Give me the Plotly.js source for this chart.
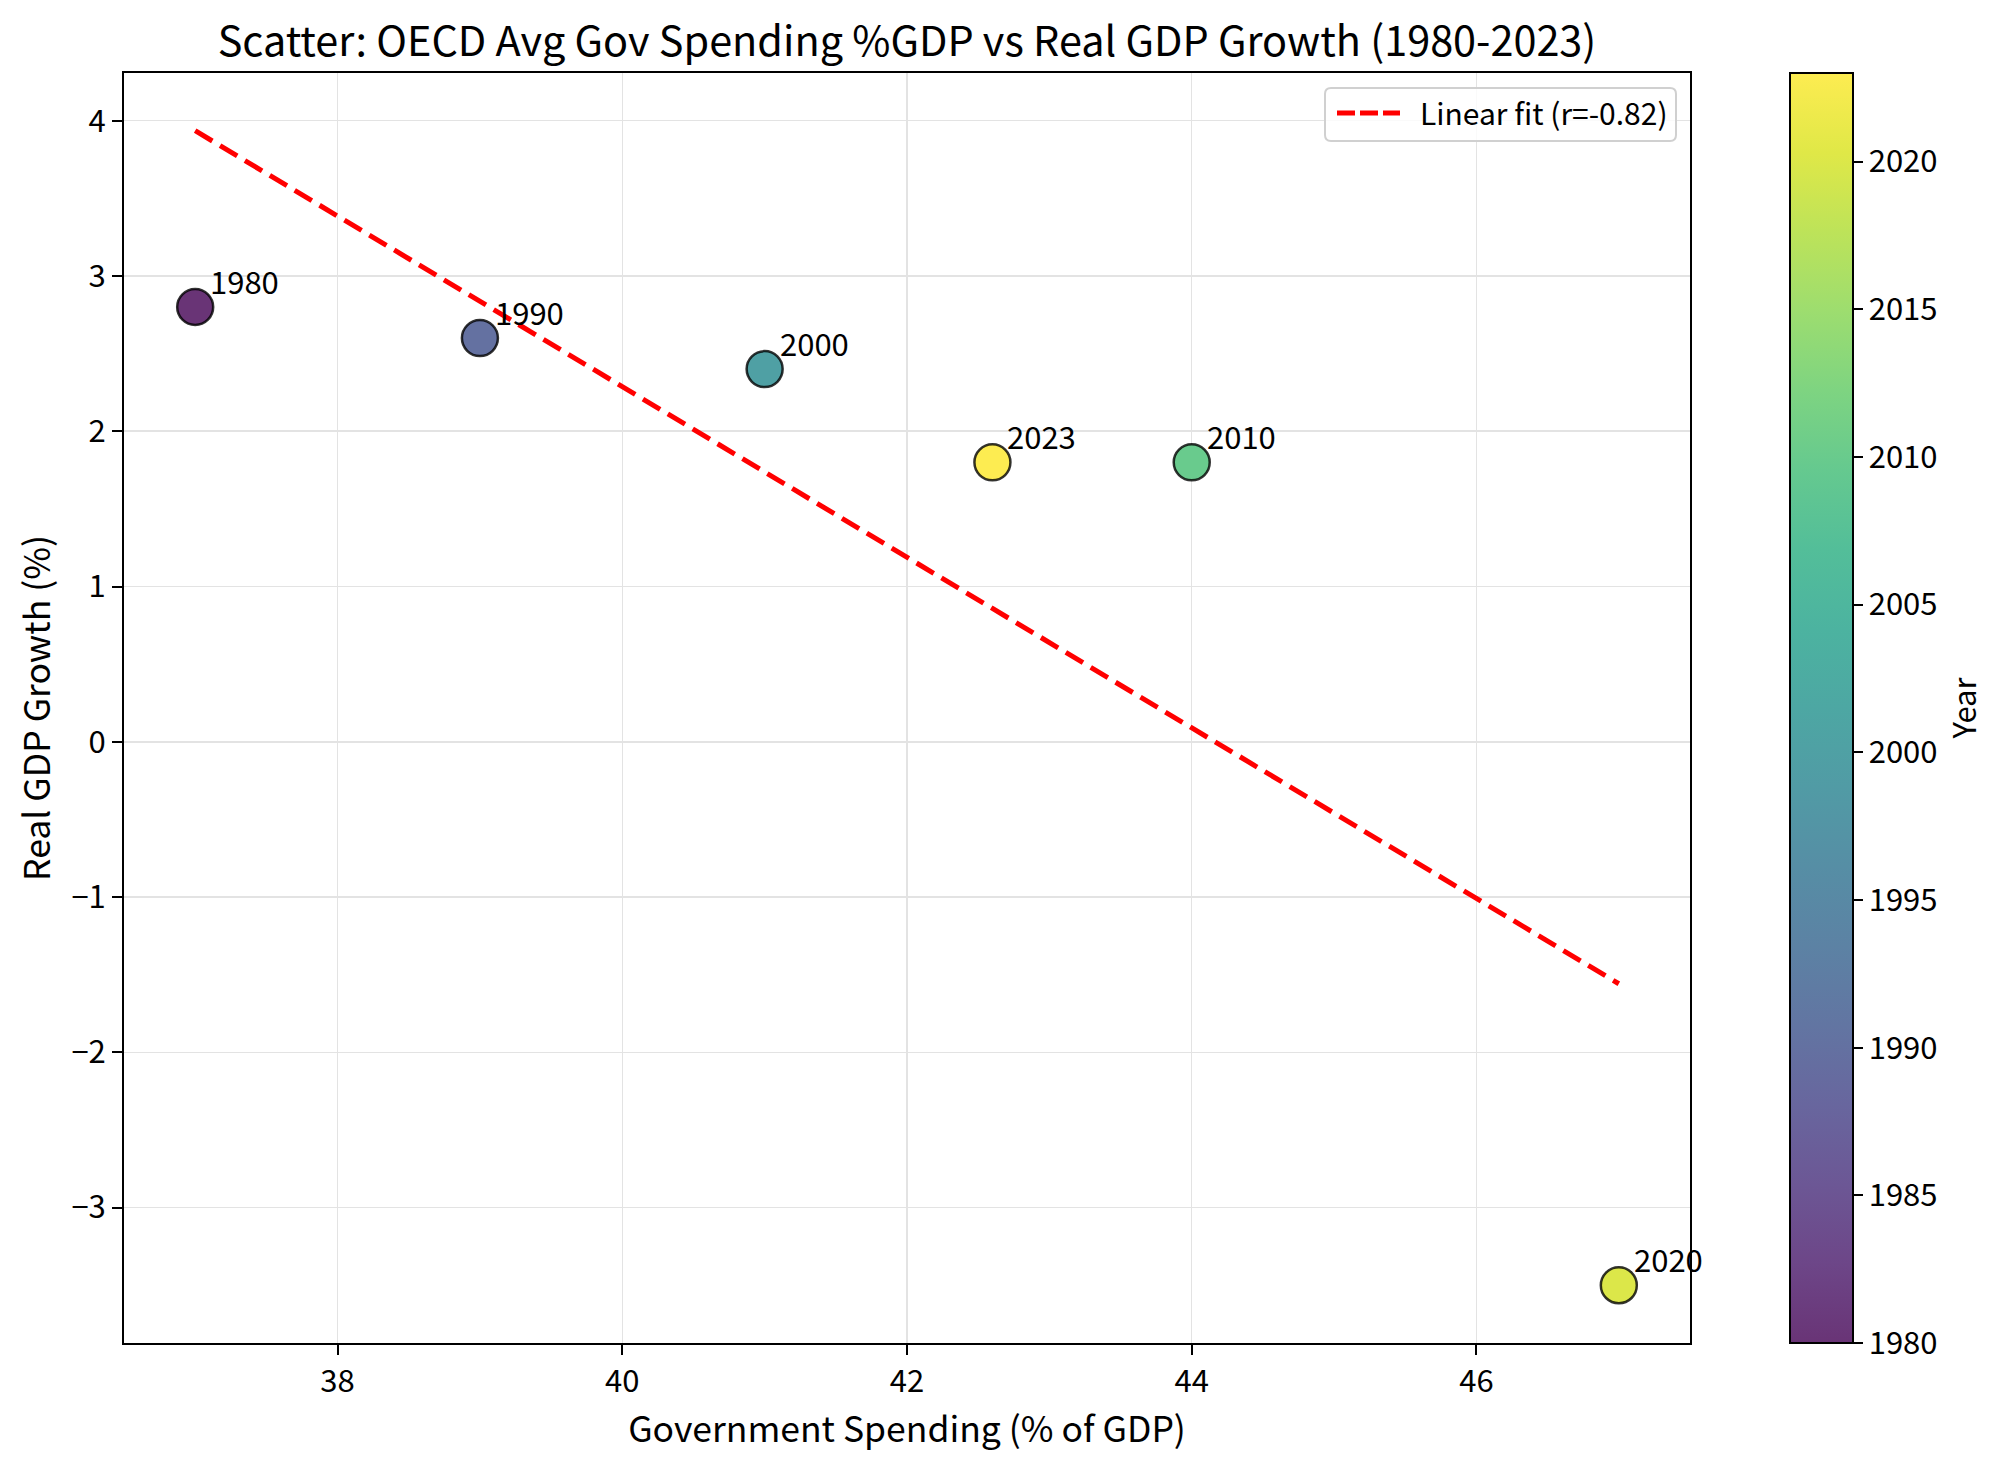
<!DOCTYPE html>
<html>
<head>
<meta charset="utf-8">
<script src="https://cdn.plot.ly/plotly-3.0.1.min.js"></script>
<style>html,body{margin:0;padding:0;background:#fff;}#chart{width:2000px;height:1465px;}</style>
</head>
<body>
<div id="chart"></div>
<script>
const years = [1980, 1990, 2000, 2010, 2020, 2023];
const govSpending = [37, 39, 41, 44, 47, 42.6];
const gdpGrowth = [2.8, 2.6, 2.4, 1.8, -3.5, 1.8];
const xTickVals = [38, 40, 42, 44, 46];
const yTickVals = [-3, -2, -1, 0, 1, 2, 3, 4];
const cbTickVals = [1980, 1985, 1990, 1995, 2000, 2005, 2010, 2015, 2020];

const FONT = '"Noto Sans CJK JP", "Noto Sans", sans-serif';

// least squares fit
const n = govSpending.length;
const mx = govSpending.reduce((a, b) => a + b, 0) / n;
const my = gdpGrowth.reduce((a, b) => a + b, 0) / n;
let sxy = 0, sxx = 0, syy = 0;
for (let i = 0; i < n; i++) {
  sxy += (govSpending[i] - mx) * (gdpGrowth[i] - my);
  sxx += (govSpending[i] - mx) ** 2;
  syy += (gdpGrowth[i] - my) ** 2;
}
const slope = sxy / sxx;
const intercept = my - slope * mx;
const r = sxy / Math.sqrt(sxx * syy);
const xMin = Math.min(...govSpending), xMax = Math.max(...govSpending);
const fitX = [xMin, xMax];
const fitY = fitX.map(x => slope * x + intercept);
const fitLabel = 'Linear fit (r=' + r.toFixed(2) + ')';

// axis ranges with 5% margins (matplotlib style)
const xPad = 0.05 * (xMax - xMin);
const allY = gdpGrowth.concat(fitY);
const yMin = Math.min(...allY), yMax = Math.max(...allY);
const yPad = 0.05 * (yMax - yMin);

// viridis blended with white at alpha 0.8
const viridis = ['#440154','#48186a','#472d7b','#424086','#3b528b','#33638d','#2c728e','#26828e','#21918c','#1fa088','#28ae80','#3fbc73','#5ec962','#84d44b','#addc30','#d8e219','#fde725'];
function blend(hex) {
  const v = [1, 3, 5].map(i => parseInt(hex.substr(i, 2), 16));
  const b = v.map(c => Math.round(c * 0.8 + 255 * 0.2));
  return 'rgb(' + b.join(',') + ')';
}
const colorscale = viridis.map((c, i) => [i / (viridis.length - 1), blend(c)]);

const scatter = {
  x: govSpending, y: gdpGrowth, text: years.map(String),
  type: 'scatter', mode: 'markers', showlegend: false,
  hoverinfo: 'x+y+text',
  marker: {
    size: 36, color: years, colorscale: colorscale, cmin: 1980, cmax: 2023,
    line: {color: 'rgba(0,0,0,0.8)', width: 2.5},
    colorbar: {
      x: 1.0639, xanchor: 'left', xref: 'paper',
      y: 0.5, yanchor: 'middle', len: 1, lenmode: 'fraction',
      thickness: 63, thicknessmode: 'pixels',
      outlinecolor: '#000', outlinewidth: 2,
      ticks: 'outside', ticklen: 9, tickwidth: 2, tickcolor: '#000',
      tickvals: cbTickVals, ticktext: cbTickVals.map(String),
      tickfont: {family: FONT, size: 31, color: '#000'},
      title: {text: 'Year', side: 'right', font: {family: FONT, size: 31, color: '#000'}},
      xpad: 0, ypad: 0
    }
  }
};

const fit = {
  x: fitX, y: fitY, type: 'scatter', mode: 'lines',
  name: fitLabel, showlegend: false,
  line: {color: '#ff0000', width: 5, dash: '20px,9px'},
  hoverinfo: 'skip'
};

const annotations = years.map((yr, i) => ({
  x: govSpending[i], y: gdpGrowth[i], xref: 'x', yref: 'y',
  text: String(yr), showarrow: false,
  xanchor: 'left', yanchor: 'bottom', xshift: 13, yshift: 2,
  font: {family: FONT, size: 31, color: '#000'}
}));

// legend drawn in paper coordinates (pixel helpers relative to the plot area)
const M = {l: 124, r: 310, t: 73, b: 122}, W = 2000, H = 1465;
const PW = W - M.l - M.r, PH = H - M.t - M.b;
const px = v => (v - M.l) / PW;
const py = v => 1 - (v - M.t) / PH;
function roundRect(x0, y0, x1, y1, rad) {
  const X = px, Y = py;
  return 'M' + X(x0 + rad) + ',' + Y(y0) +
    ' L' + X(x1 - rad) + ',' + Y(y0) + ' Q' + X(x1) + ',' + Y(y0) + ' ' + X(x1) + ',' + Y(y0 + rad) +
    ' L' + X(x1) + ',' + Y(y1 - rad) + ' Q' + X(x1) + ',' + Y(y1) + ' ' + X(x1 - rad) + ',' + Y(y1) +
    ' L' + X(x0 + rad) + ',' + Y(y1) + ' Q' + X(x0) + ',' + Y(y1) + ' ' + X(x0) + ',' + Y(y1 - rad) +
    ' L' + X(x0) + ',' + Y(y0 + rad) + ' Q' + X(x0) + ',' + Y(y0) + ' ' + X(x0 + rad) + ',' + Y(y0) + ' Z';
}
const legendShapes = [
  {type: 'path', xref: 'paper', yref: 'paper', path: roundRect(1325, 88, 1676, 141, 6),
   fillcolor: 'rgba(255,255,255,0.8)', line: {color: '#d0d0d0', width: 2}, layer: 'above'},
  {type: 'line', xref: 'paper', yref: 'paper', x0: px(1337), x1: px(1400), y0: py(113), y1: py(113),
   line: {color: '#ff0000', width: 5, dash: '18px,5px'}, layer: 'above'}
];
annotations.push({
  xref: 'paper', yref: 'paper', x: px(1418), y: py(112), xanchor: 'left', yanchor: 'middle',
  text: fitLabel, showarrow: false, font: {family: FONT, size: 30, color: '#000'}
});

const axisCommon = {
  showline: true, linecolor: '#000', linewidth: 2, mirror: true,
  ticks: 'outside', ticklen: 10, tickwidth: 2, tickcolor: '#000',
  showgrid: true, gridcolor: '#e3e3e3', gridwidth: 1.5,
  zeroline: false,
  tickfont: {family: FONT, size: 31, color: '#000'}
};

const layout = {
  width: W, height: H,
  margin: M,
  paper_bgcolor: '#fff', plot_bgcolor: '#fff',
  font: {family: FONT, color: '#000'},
  showlegend: false,
  title: {
    text: 'Scatter: OECD Avg Gov Spending %GDP vs Real GDP Growth (1980-2023)',
    x: 0.5, xref: 'paper', xanchor: 'center',
    y: 1 - 42 / 1465, yref: 'container', yanchor: 'middle',
    font: {family: FONT, size: 41.4, color: '#000'}
  },
  xaxis: Object.assign({}, axisCommon, {
    range: [xMin - xPad, xMax + xPad],
    tickvals: xTickVals, ticktext: xTickVals.map(String),
    title: {text: 'Government Spending (% of GDP)', standoff: 0,
            font: {family: FONT, size: 35.5, color: '#000'}}
  }),
  yaxis: Object.assign({}, axisCommon, {
    range: [yMin - yPad, yMax + yPad],
    tickvals: yTickVals, ticktext: yTickVals.map(v => v < 0 ? '\u2212' + Math.abs(v) : String(v)),
    title: {text: 'Real GDP Growth (%)', standoff: 10,
            font: {family: FONT, size: 35.5, color: '#000'}}
  }),
  shapes: legendShapes,
  annotations: annotations
};

Plotly.newPlot('chart', [fit, scatter], layout, {displayModeBar: false, staticPlot: true});
</script>
</body>
</html>
